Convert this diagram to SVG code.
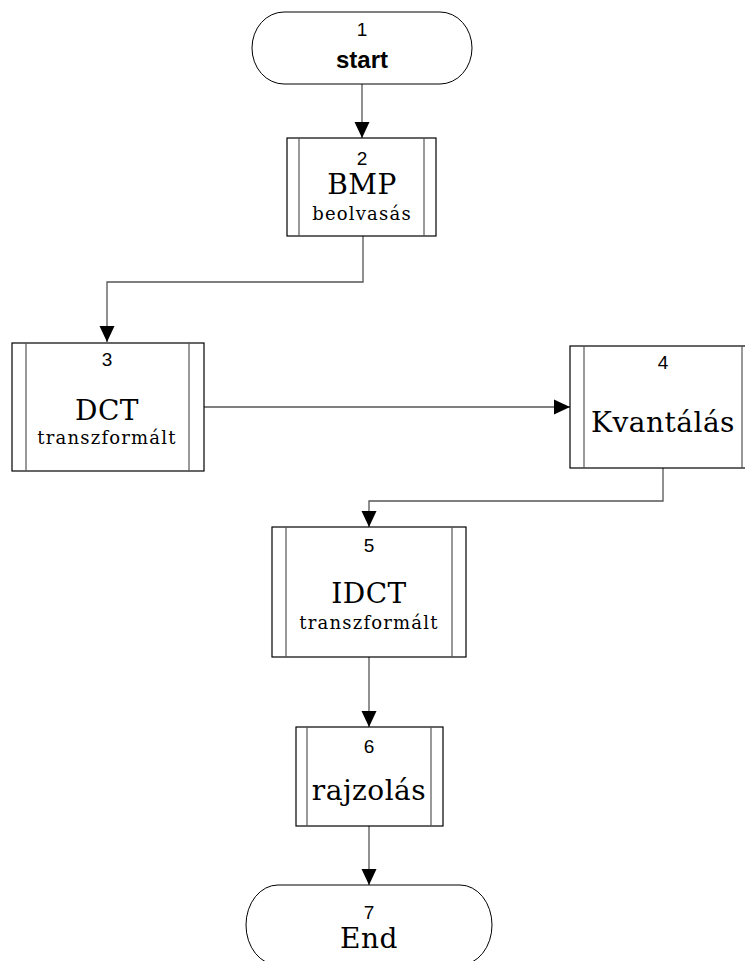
<svg xmlns="http://www.w3.org/2000/svg" width="745" height="961" viewBox="0 0 745 961">
<defs>
<marker id="arr" markerUnits="userSpaceOnUse" markerWidth="18" markerHeight="18" viewBox="0 0 18 18" refX="17" refY="9" orient="auto">
<path d="M1,1.5 L17,9 L1,16.5 Z" fill="#000"/>
</marker>
</defs>
<style>
.box{fill:#fff;stroke:#000;stroke-width:1.2}
.bar{stroke:#555;stroke-width:1.2}
.term{fill:#fff;stroke:#000;stroke-width:1}
.num{font-family:"Liberation Sans",Arial,sans-serif;font-size:19px;text-anchor:middle;fill:#000}
.bold{font-family:"Liberation Sans",Arial,sans-serif;font-size:24px;font-weight:bold;text-anchor:middle;fill:#000}
.big{font-family:"DejaVu Serif",serif;font-size:28px;letter-spacing:0.5px;text-anchor:middle;fill:#000}
.small{font-family:"DejaVu Serif",serif;font-size:18px;letter-spacing:1.2px;text-anchor:middle;fill:#000}
.conn{fill:none;stroke:#555;stroke-width:1.3}
</style>
<g id="connectors">
<path class="conn" d="M362,84 L362,138" marker-end="url(#arr)"/>
<path class="conn" d="M363,236 L363,282 L107,282 L107,342" marker-end="url(#arr)"/>
<path class="conn" d="M204,407 L570,407" marker-end="url(#arr)"/>
<path class="conn" d="M663,468 L663,501 L369,501 L369,527" marker-end="url(#arr)"/>
<path class="conn" d="M369,657 L369,727" marker-end="url(#arr)"/>
<path class="conn" d="M369,826 L369,885" marker-end="url(#arr)"/>
</g>
<g id="n1">
<rect class="term" x="252" y="12" width="220" height="72" rx="32" ry="36"/>
<text class="num" x="362" y="36">1</text>
<text class="bold" x="362" y="68">start</text>
</g>
<g id="n2">
<rect class="box" x="287" y="138" width="149" height="98"/>
<line class="bar" x1="299" y1="138" x2="299" y2="236"/>
<line class="bar" x1="424" y1="138" x2="424" y2="236"/>
<text class="num" x="362" y="165">2</text>
<text class="big" x="362" y="194">BMP</text>
<text class="small" x="362" y="220">beolvasás</text>
</g>
<g id="n3">
<rect class="box" x="12" y="343" width="192" height="128"/>
<line class="bar" x1="26" y1="343" x2="26" y2="471"/>
<line class="bar" x1="189" y1="343" x2="189" y2="471"/>
<text class="num" x="107" y="366">3</text>
<text class="big" x="107" y="420">DCT</text>
<text class="small" x="107" y="444">transzformált</text>
</g>
<g id="n4">
<rect class="box" x="570" y="346" width="186" height="122"/>
<line class="bar" x1="584" y1="346" x2="584" y2="468"/>
<line class="bar" x1="742" y1="346" x2="742" y2="468"/>
<text class="num" x="663" y="369">4</text>
<text class="big" x="663" y="432">Kvantálás</text>
</g>
<g id="n5">
<rect class="box" x="272" y="527" width="194" height="130"/>
<line class="bar" x1="286" y1="527" x2="286" y2="657"/>
<line class="bar" x1="452" y1="527" x2="452" y2="657"/>
<text class="num" x="369" y="552">5</text>
<text class="big" x="369" y="603">IDCT</text>
<text class="small" x="369" y="629">transzformált</text>
</g>
<g id="n6">
<rect class="box" x="296" y="727" width="147" height="99"/>
<line class="bar" x1="307" y1="727" x2="307" y2="826"/>
<line class="bar" x1="431" y1="727" x2="431" y2="826"/>
<text class="num" x="369" y="753">6</text>
<text class="big" x="369" y="800">rajzolás</text>
</g>
<g id="n7">
<rect class="term" x="246" y="885" width="246" height="80" rx="32" ry="40"/>
<text class="num" x="369" y="919">7</text>
<text class="big" x="369" y="948">End</text>
</g>
</svg>
